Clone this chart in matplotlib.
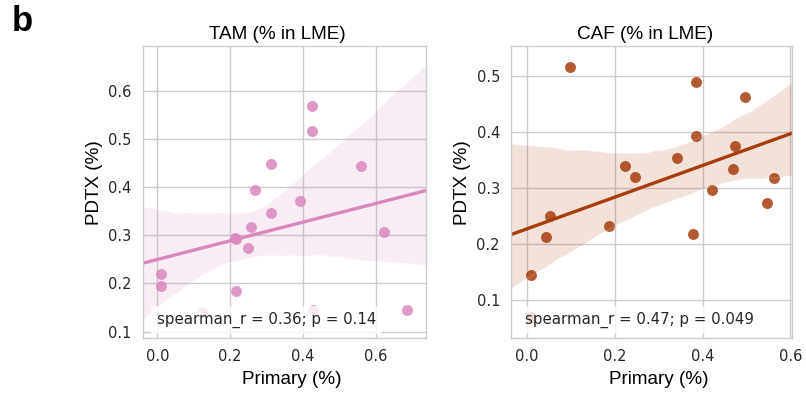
import numpy as np
import pandas as pd
import matplotlib
matplotlib.use("Agg")
import matplotlib.pyplot as plt
import seaborn as sns

# ---- data ----
tam_primary = [0.010, 0.010, 0.122, 0.215, 0.213, 0.217, 0.248, 0.257, 0.267,
               0.313, 0.313, 0.390, 0.423, 0.423, 0.426, 0.559, 0.623, 0.685]
tam_pdtx = [0.220, 0.195, 0.1415, 0.185, 0.294, 0.292, 0.274, 0.318, 0.393,
            0.347, 0.447, 0.372, 0.516, 0.568, 0.146, 0.443, 0.307, 0.145]

caf_primary = [0.098, 0.384, 0.497, 0.384, 0.475, 0.341, 0.222, 0.246, 0.469,
               0.562, 0.421, 0.548, 0.053, 0.043, 0.186, 0.377, 0.0076, 0.0076]
caf_pdtx = [0.515, 0.489, 0.462, 0.392, 0.374, 0.354, 0.338, 0.320, 0.333,
            0.317, 0.296, 0.273, 0.249, 0.2125, 0.2315, 0.218, 0.1435, 0.0696]

titles = ["TAM (% in LME)", "CAF (% in LME)"]
annotations = ["spearman_r = 0.36; p = 0.14", "spearman_r = 0.47; p = 0.049"]
colors = ["#D987BE", "#A83D0C"]
xlims = [(-0.040, 0.736), (-0.037, 0.6046)]
ylims = [(0.0876, 0.693), (0.0324, 0.5536)]
yticks = [[0.1, 0.2, 0.3, 0.4, 0.5, 0.6], [0.1, 0.2, 0.3, 0.4, 0.5]]
xticks = [0.0, 0.2, 0.4, 0.6]

sns.set_theme(style="whitegrid")
plt.rcParams['font.family'] = ['DejaVu Sans']

W, H = 806, 395
fig = plt.figure(figsize=(W / 100, H / 100), dpi=100)

boxes = [(142.7, 45.7, 425.7, 337.7), (511.0, 45.7, 792.3, 337.7)]
datasets = [(tam_primary, tam_pdtx), (caf_primary, caf_pdtx)]
label_font = dict(family=['Liberation Sans', 'DejaVu Sans'], size=13.6, color='black')

for i in range(2):
    x0, y0, x1, y1 = boxes[i]
    ax = fig.add_axes([x0 / W, 1 - y1 / H, (x1 - x0) / W, (y1 - y0) / H])
    ax.set_xlim(*xlims[i])
    ax.set_ylim(*ylims[i])
    df = pd.DataFrame({"x": datasets[i][0], "y": datasets[i][1]})
    sns.regplot(data=df, x="x", y="y", ax=ax, color=colors[i], truncate=False,
                seed=3, n_boot=1000,
                scatter_kws=dict(s=62, alpha=0.85, linewidths=0),
                line_kws=dict(lw=2.4))
    ax.set_xlim(*xlims[i])
    ax.set_ylim(*ylims[i])
    ax.set_xticks(xticks)
    ax.set_yticks(yticks[i])
    ax.set_xticklabels([f"{v:.1f}" for v in xticks])
    ax.set_yticklabels([f"{v:.1f}" for v in yticks[i]])
    ax.tick_params(axis='both', length=0, pad=8, labelsize=10.5, labelcolor='#262626')
    ax.grid(True, color='#cccccc', lw=1)
    for s in ax.spines.values():
        s.set_color('#cccccc')
        s.set_linewidth(1)
    ax.set_xlabel("Primary (%)", labelpad=5, **label_font)
    ax.set_ylabel("PDTX (%)", labelpad=4, **label_font)
    ax.xaxis.label.set_x(0.525)
    ax.yaxis.label.set_y(0.53)
    ax.set_title(titles[i], pad=4.8, x=0.475, **label_font)
    ax.text(0.05, 0.06, annotations[i], transform=ax.transAxes, ha='left', va='center',
            fontsize=10.8, color='#262626', zorder=5,
            bbox=dict(boxstyle='square,pad=0.4', facecolor='white', edgecolor='none', alpha=0.8))

fig.text(12 / W, 1 - 31 / H, "b", fontsize=25, fontweight='bold',
         family=['Liberation Sans', 'DejaVu Sans'], ha='left', va='baseline', color='black')

fig.savefig("out.png", dpi=100)
